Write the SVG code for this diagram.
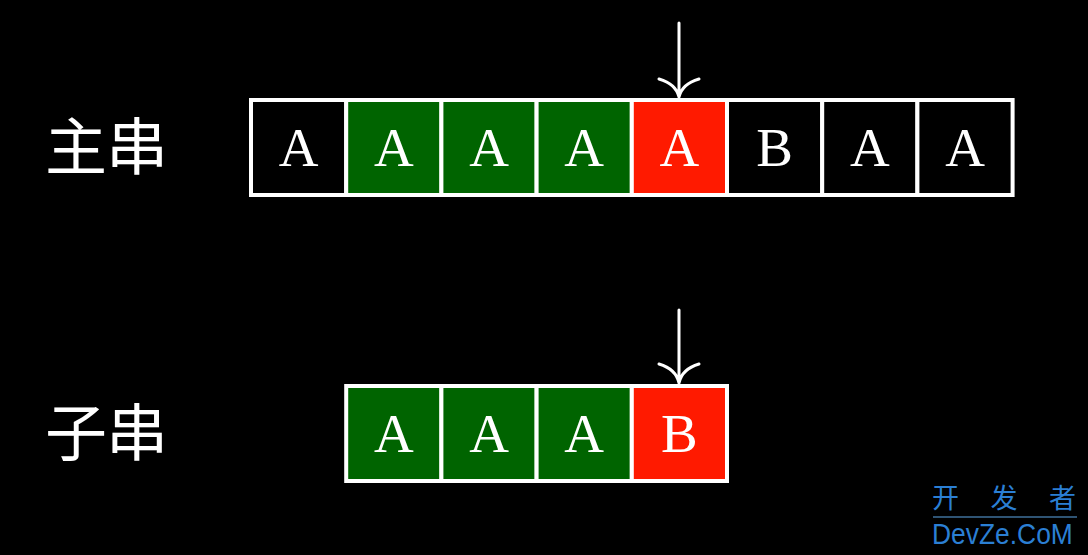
<svg xmlns="http://www.w3.org/2000/svg" width="1088" height="555" viewBox="0 0 1088 555">
<style>
.cell{stroke:#fff;stroke-width:4}
.g{fill:#006400}.r{fill:#ff1a00}.k{fill:#000}
.ch{font-family:"Liberation Serif",serif;font-size:55px;fill:#fff;text-anchor:middle}
.lb{font-family:"Noto Sans CJK SC",sans-serif;font-size:62px;fill:#fff}
.arr{stroke:#fff;stroke-width:3;fill:none;stroke-linecap:round}
.wm{font-family:"Noto Sans CJK SC",sans-serif;fill:#2b7fd4;font-size:27px}
.wl{font-family:"Liberation Sans",sans-serif;fill:#2b7fd4;font-size:30px}
</style>
<rect width="1088" height="555" fill="#000"/>
<g id="label-main"><text class="lb" x="45" y="170" textLength="123" lengthAdjust="spacing">主串</text></g>
<g id="label-sub"><text class="lb" x="45" y="456" textLength="123" lengthAdjust="spacing">子串</text></g>
<g id="main-string">
<rect class="cell k" x="251" y="100" width="95.2" height="95"/><text class="ch" x="298.6" y="166">A</text>
<rect class="cell g" x="346.2" y="100" width="95.2" height="95"/><text class="ch" x="393.8" y="166">A</text>
<rect class="cell g" x="441.4" y="100" width="95.2" height="95"/><text class="ch" x="489" y="166">A</text>
<rect class="cell g" x="536.6" y="100" width="95.2" height="95"/><text class="ch" x="584.2" y="166">A</text>
<rect class="cell r" x="631.8" y="100" width="95.2" height="95"/><text class="ch" x="679.4" y="166">A</text>
<rect class="cell k" x="727" y="100" width="95.2" height="95"/><text class="ch" x="774.6" y="166">B</text>
<rect class="cell k" x="822.2" y="100" width="95.2" height="95"/><text class="ch" x="869.8" y="166">A</text>
<rect class="cell k" x="917.4" y="100" width="95.2" height="95"/><text class="ch" x="965" y="166">A</text>
</g>
<g id="sub-string">
<rect class="cell g" x="346.2" y="386" width="95.2" height="95"/><text class="ch" x="393.8" y="452">A</text>
<rect class="cell g" x="441.4" y="386" width="95.2" height="95"/><text class="ch" x="489" y="452">A</text>
<rect class="cell g" x="536.6" y="386" width="95.2" height="95"/><text class="ch" x="584.2" y="452">A</text>
<rect class="cell r" x="631.8" y="386" width="95.2" height="95"/><text class="ch" x="679.4" y="452">B</text>
</g>
<g id="connectors">
<path class="arr" d="M679 23 V97 M659 79 Q676 84 679 97 Q682 84 699 79"/>
<path class="arr" d="M679 310 V383 M659 364 Q676 369 679 383 Q682 369 699 364"/>
</g>
<g id="watermark">
<text class="wm" x="932" y="508" textLength="144" lengthAdjust="spacing">开发者</text>
<line x1="933" y1="517" x2="1077" y2="517" stroke="#5fa8e8" stroke-width="1"/>
<text class="wl" transform="translate(932,544) scale(0.88,1)" x="0" y="0">DevZe.CoM</text>
</g>
</svg>
